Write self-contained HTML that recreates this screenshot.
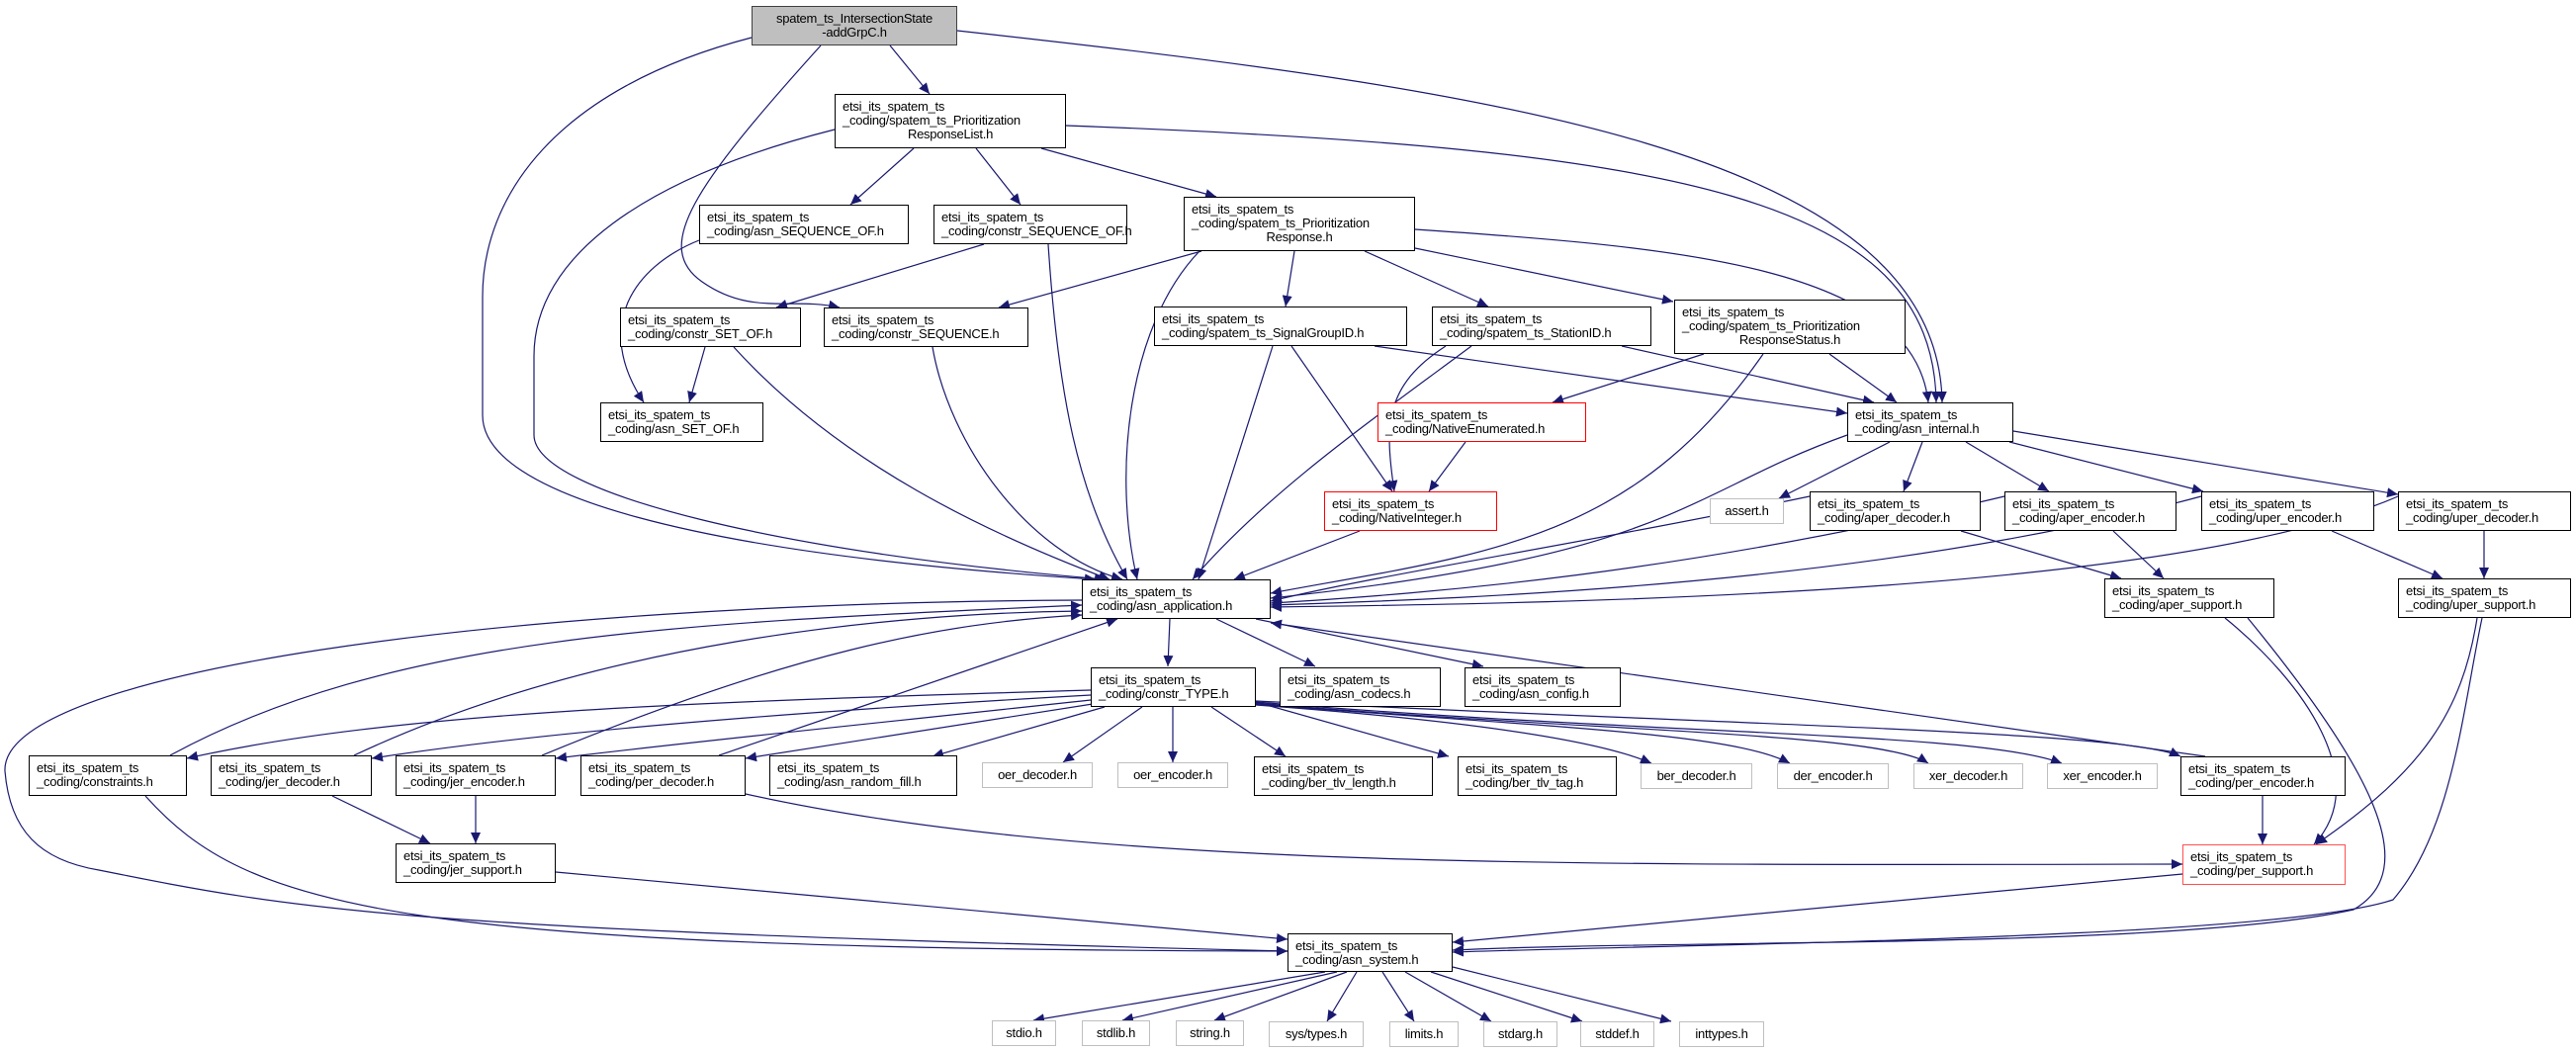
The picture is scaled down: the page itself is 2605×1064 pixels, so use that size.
<!DOCTYPE html>
<html><head><meta charset="utf-8"><style>
body{margin:0;width:2605px;height:1064px;background:#fff;position:relative;overflow:hidden;font-family:"Liberation Sans",sans-serif;}
.n{position:absolute;box-sizing:border-box;border:1px solid #000;background:#fff;font-size:13px;letter-spacing:-0.25px;line-height:14px;padding:5px 7px 0 7px;white-space:nowrap;color:#000;}
.g{border-color:#bfbfbf;text-align:center;padding:5px 2px 0 2px;}
.r{border-color:#ff0000;}
.c{text-align:center;display:block;}
svg{position:absolute;left:0;top:0;}
</style></head><body>
<svg width="2605" height="1064" viewBox="0 0 2605 1064">
<defs><marker id="a" markerUnits="userSpaceOnUse" markerWidth="12" markerHeight="10" refX="11" refY="5" orient="auto"><path d="M0,0 L11,5 L0,10 z" fill="#191970"/></marker></defs>
<g fill="none" stroke="#191970" stroke-width="1.2" marker-end="url(#a)">
<path d="M900 46 L940 95"/>
<path d="M830 46 C700 190,660 250,710 285 S800 300 849 311"/>
<path d="M760 38 C560 90,488 200,488 300 L488 420 C488 500,700 560,1108 586"/>
<path d="M968 31 C1500 90,1960 150,1964 407"/>
<path d="M924 150 L860 207"/>
<path d="M987 150 L1032 207"/>
<path d="M1053 150 L1230 199"/>
<path d="M844 131 C650 180,540 260,540 360 L540 440 C540 500,800 560,1118 586"/>
<path d="M1078 127 C1700 150,1955 200,1958 407"/>
<path d="M707 243 C640 270,600 330,651 407"/>
<path d="M995 247 L785 311"/>
<path d="M1060 247 C1070 400,1090 500,1140 586"/>
<path d="M713 351 L697 407"/>
<path d="M742 351 C850 470,1000 540,1122 586"/>
<path d="M943 351 C960 450,1040 560,1135 586"/>
<path d="M1215 254 L1010 311"/>
<path d="M1213 254 C1140 330,1125 480,1150 586"/>
<path d="M1309 254 L1300 310"/>
<path d="M1380 254 L1505 310"/>
<path d="M1431 251 L1692 305"/>
<path d="M1431 232 C1700 250,1935 270,1950 407"/>
<path d="M1287 350 L1212 586"/>
<path d="M1306 350 L1408 497"/>
<path d="M1390 350 L1868 418"/>
<path d="M1488 350 C1380 430,1280 500,1206 586"/>
<path d="M1462 350 C1400 390,1400 430,1410 497"/>
<path d="M1640 350 L1895 407"/>
<path d="M1723 358 L1570 407"/>
<path d="M1850 358 L1918 407"/>
<path d="M1783 358 C1650 550,1500 560,1285 600"/>
<path d="M1482 447 L1445 497"/>
<path d="M1375 537 L1248 586"/>
<path d="M1868 440 C1700 500,1700 560,1285 605"/>
<path d="M1911 447 L1799 504"/>
<path d="M1944 447 L1925 497"/>
<path d="M1988 447 L2072 497"/>
<path d="M2032 447 L2228 497"/>
<path d="M2036 436 L2425 500"/>
<path d="M1830 502 C1600 550,1400 580,1285 608"/>
<path d="M1983 537 L2145 585"/>
<path d="M2027 502 C1700 580,1450 600,1285 610"/>
<path d="M2137 537 L2188 585"/>
<path d="M2226 502 C1900 590,1500 605,1285 612"/>
<path d="M2358 537 L2470 585"/>
<path d="M2425 502 C2200 600,1600 610,1285 614"/>
<path d="M2512 537 L2512 585"/>
<path d="M2250 625 C2330 690,2400 790,2340 854"/>
<path d="M2273 625 C2400 780,2450 880,2380 920 C2200 960,1700 950,1469 961"/>
<path d="M2505 625 C2490 720,2450 780,2342 854"/>
<path d="M2510 625 C2490 720,2480 840,2420 910 C2300 950,1700 955,1469 963"/>
<path d="M1183 626 L1181 674"/>
<path d="M1230 626 L1330 674"/>
<path d="M1270 626 L1500 674"/>
<path d="M1094 607 C500 610,0 680,5 780 C10 840,40 870,100 880 C300 920,400 940,1302 962"/>
<path d="M172 764 C400 640,700 630,1094 612"/>
<path d="M358 764 C600 650,900 620,1094 618"/>
<path d="M548 764 C800 660,950 630,1094 622"/>
<path d="M727 764 L1130 626"/>
<path d="M2230 765 L1285 630"/>
<path d="M1103 698 C700 710,400 720,189 767"/>
<path d="M1103 703 C800 720,550 740,376 767"/>
<path d="M1103 708 C900 730,700 750,562 767"/>
<path d="M1105 712 L754 767"/>
<path d="M1117 715 L943 765"/>
<path d="M1155 715 L1075 771"/>
<path d="M1186 715 L1186 771"/>
<path d="M1225 715 L1300 765"/>
<path d="M1270 710 L1465 765"/>
<path d="M1270 713 C1500 730,1620 750,1670 772"/>
<path d="M1270 712 C1550 735,1750 740,1810 772"/>
<path d="M1270 711 C1600 740,1900 740,1950 772"/>
<path d="M1270 710 C1700 745,2000 740,2085 772"/>
<path d="M1270 709 C1800 735,2150 740,2205 765"/>
<path d="M147 805 C250 920,400 960,1302 962"/>
<path d="M336 805 L435 853"/>
<path d="M481 805 L481 853"/>
<path d="M562 882 L1302 950"/>
<path d="M754 803 C1100 880,1600 875,2207 874"/>
<path d="M2288 805 L2288 854"/>
<path d="M2207 884 L1469 953"/>
<path d="M1340 983 L1045 1032"/>
<path d="M1352 983 L1135 1032"/>
<path d="M1362 983 L1228 1032"/>
<path d="M1372 983 L1342 1033"/>
<path d="M1398 983 L1430 1033"/>
<path d="M1421 983 L1508 1033"/>
<path d="M1447 983 L1600 1033"/>
<path d="M1469 978 L1690 1033"/>
</g></svg>

<div class="n" style="left:760px;top:6px;width:208px;height:40px;background:#bfbfbf;border-color:#404040;text-align:center;">spatem_ts_IntersectionState<br>-addGrpC.h</div>
<div class="n" style="left:844px;top:95px;width:234px;height:55px;">etsi_its_spatem_ts<br>_coding/spatem_ts_Prioritization<span class="c">ResponseList.h</span></div>
<div class="n" style="left:707px;top:207px;width:212px;height:40px;">etsi_its_spatem_ts<br>_coding/asn_SEQUENCE_OF.h</div>
<div class="n" style="left:944px;top:207px;width:196px;height:40px;">etsi_its_spatem_ts<br>_coding/constr_SEQUENCE_OF.h</div>
<div class="n" style="left:627px;top:311px;width:183px;height:40px;">etsi_its_spatem_ts<br>_coding/constr_SET_OF.h</div>
<div class="n" style="left:833px;top:311px;width:207px;height:40px;">etsi_its_spatem_ts<br>_coding/constr_SEQUENCE.h</div>
<div class="n" style="left:607px;top:407px;width:165px;height:40px;">etsi_its_spatem_ts<br>_coding/asn_SET_OF.h</div>
<div class="n" style="left:1197px;top:199px;width:234px;height:55px;">etsi_its_spatem_ts<br>_coding/spatem_ts_Prioritization<span class="c">Response.h</span></div>
<div class="n" style="left:1167px;top:310px;width:256px;height:40px;">etsi_its_spatem_ts<br>_coding/spatem_ts_SignalGroupID.h</div>
<div class="n" style="left:1448px;top:310px;width:222px;height:40px;">etsi_its_spatem_ts<br>_coding/spatem_ts_StationID.h</div>
<div class="n" style="left:1693px;top:303px;width:234px;height:55px;">etsi_its_spatem_ts<br>_coding/spatem_ts_Prioritization<span class="c">ResponseStatus.h</span></div>
<div class="n r" style="left:1393px;top:407px;width:211px;height:40px;">etsi_its_spatem_ts<br>_coding/NativeEnumerated.h</div>
<div class="n" style="left:1868px;top:407px;width:168px;height:40px;">etsi_its_spatem_ts<br>_coding/asn_internal.h</div>
<div class="n r" style="left:1339px;top:497px;width:175px;height:40px;">etsi_its_spatem_ts<br>_coding/NativeInteger.h</div>
<div class="n g" style="left:1729px;top:504px;width:75px;height:26px;">assert.h</div>
<div class="n" style="left:1830px;top:497px;width:173px;height:40px;">etsi_its_spatem_ts<br>_coding/aper_decoder.h</div>
<div class="n" style="left:2027px;top:497px;width:174px;height:40px;">etsi_its_spatem_ts<br>_coding/aper_encoder.h</div>
<div class="n" style="left:2226px;top:497px;width:175px;height:40px;">etsi_its_spatem_ts<br>_coding/uper_encoder.h</div>
<div class="n" style="left:2425px;top:497px;width:175px;height:40px;">etsi_its_spatem_ts<br>_coding/uper_decoder.h</div>
<div class="n" style="left:1094px;top:586px;width:191px;height:40px;">etsi_its_spatem_ts<br>_coding/asn_application.h</div>
<div class="n" style="left:2128px;top:585px;width:172px;height:40px;">etsi_its_spatem_ts<br>_coding/aper_support.h</div>
<div class="n" style="left:2425px;top:585px;width:175px;height:40px;">etsi_its_spatem_ts<br>_coding/uper_support.h</div>
<div class="n" style="left:1103px;top:675px;width:167px;height:40px;">etsi_its_spatem_ts<br>_coding/constr_TYPE.h</div>
<div class="n" style="left:1294px;top:675px;width:163px;height:40px;">etsi_its_spatem_ts<br>_coding/asn_codecs.h</div>
<div class="n" style="left:1481px;top:675px;width:158px;height:40px;">etsi_its_spatem_ts<br>_coding/asn_config.h</div>
<div class="n" style="left:29px;top:764px;width:160px;height:41px;">etsi_its_spatem_ts<br>_coding/constraints.h</div>
<div class="n" style="left:213px;top:764px;width:163px;height:41px;">etsi_its_spatem_ts<br>_coding/jer_decoder.h</div>
<div class="n" style="left:400px;top:764px;width:162px;height:41px;">etsi_its_spatem_ts<br>_coding/jer_encoder.h</div>
<div class="n" style="left:587px;top:764px;width:167px;height:41px;">etsi_its_spatem_ts<br>_coding/per_decoder.h</div>
<div class="n" style="left:778px;top:764px;width:190px;height:41px;">etsi_its_spatem_ts<br>_coding/asn_random_fill.h</div>
<div class="n g" style="left:993px;top:771px;width:112px;height:26px;">oer_decoder.h</div>
<div class="n g" style="left:1130px;top:771px;width:112px;height:26px;">oer_encoder.h</div>
<div class="n" style="left:1268px;top:765px;width:181px;height:40px;">etsi_its_spatem_ts<br>_coding/ber_tlv_length.h</div>
<div class="n" style="left:1474px;top:765px;width:161px;height:40px;">etsi_its_spatem_ts<br>_coding/ber_tlv_tag.h</div>
<div class="n g" style="left:1659px;top:772px;width:113px;height:26px;">ber_decoder.h</div>
<div class="n g" style="left:1797px;top:772px;width:113px;height:26px;">der_encoder.h</div>
<div class="n g" style="left:1935px;top:772px;width:111px;height:26px;">xer_decoder.h</div>
<div class="n g" style="left:2070px;top:772px;width:112px;height:26px;">xer_encoder.h</div>
<div class="n" style="left:2205px;top:765px;width:167px;height:40px;">etsi_its_spatem_ts<br>_coding/per_encoder.h</div>
<div class="n" style="left:400px;top:853px;width:162px;height:40px;">etsi_its_spatem_ts<br>_coding/jer_support.h</div>
<div class="n r" style="left:2207px;top:854px;width:165px;height:41px;border-color:#ff5050;">etsi_its_spatem_ts<br>_coding/per_support.h</div>
<div class="n" style="left:1302px;top:944px;width:167px;height:39px;">etsi_its_spatem_ts<br>_coding/asn_system.h</div>
<div class="n g" style="left:1003px;top:1032px;width:65px;height:26px;">stdio.h</div>
<div class="n g" style="left:1094px;top:1032px;width:69px;height:26px;">stdlib.h</div>
<div class="n g" style="left:1189px;top:1032px;width:69px;height:26px;">string.h</div>
<div class="n g" style="left:1283px;top:1033px;width:96px;height:26px;">sys/types.h</div>
<div class="n g" style="left:1405px;top:1033px;width:70px;height:26px;">limits.h</div>
<div class="n g" style="left:1500px;top:1033px;width:75px;height:26px;">stdarg.h</div>
<div class="n g" style="left:1598px;top:1033px;width:75px;height:26px;">stddef.h</div>
<div class="n g" style="left:1698px;top:1033px;width:86px;height:26px;">inttypes.h</div>
</body></html>
